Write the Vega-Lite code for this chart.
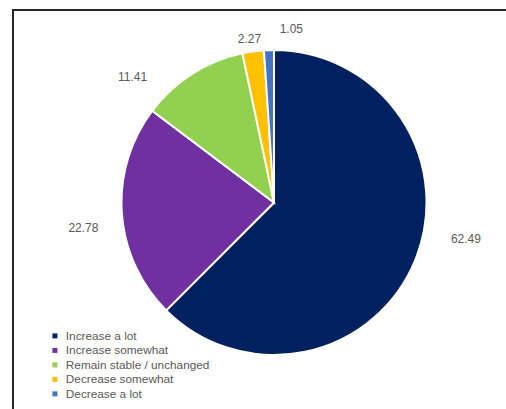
{
  "$schema": "https://vega.github.io/schema/vega-lite/v6.json",
  "autosize": {"type": "none"},
  "padding": {"left": 13, "top": 10, "right": 0, "bottom": 0},
  "width": 522,
  "height": 800,
  "background": "white",
  "config": {
    "view": {"stroke": "#262626", "strokeWidth": 2},
    "text": {"font": "Liberation Sans", "fontSize": 12, "fill": "#595959"}
  },
  "data": {
    "values": [
      {"category": "Increase a lot", "pct": 62.49, "rank": 1},
      {"category": "Increase somewhat", "pct": 22.78, "rank": 2},
      {"category": "Remain stable / unchanged", "pct": 11.41, "rank": 3},
      {"category": "Decrease somewhat", "pct": 2.27, "rank": 4},
      {"category": "Decrease a lot", "pct": 1.05, "rank": 5}
    ]
  },
  "encoding": {
    "theta": {"field": "pct", "type": "quantitative", "stack": true, "scale": {"domain": [0, 100]}},
    "order": {"field": "rank", "type": "quantitative"},
    "y": {"value": 192.5}
  },
  "layer": [
    {
      "mark": {"type": "arc", "outerRadius": 152.5, "stroke": "white", "strokeWidth": 2},
      "encoding": {
        "color": {
          "field": "category",
          "type": "nominal",
          "scale": {
            "domain": ["Increase a lot", "Increase somewhat", "Remain stable / unchanged", "Decrease somewhat", "Decrease a lot"],
            "range": ["#002060", "#7030A0", "#92D050", "#FFC000", "#4472C4"]
          },
          "legend": {
            "title": null,
            "orient": "none",
            "legendX": 36,
            "legendY": 320,
            "padding": 0,
            "symbolType": "square",
            "symbolSize": 25,
            "symbolStrokeWidth": 0,
            "labelFont": "Liberation Sans",
            "labelFontSize": 11.8,
            "labelColor": "#595959",
            "labelOffset": 5,
            "rowPadding": 1.5
          }
        }
      }
    },
    {
      "mark": {"type": "text", "radius": 172, "dx": 33, "dy": -29},
      "encoding": {"text": {"condition": {"test": "datum.category === 'Increase a lot'", "field": "pct", "type": "quantitative", "format": ".2f"}, "value": ""}}
    },
    {
      "mark": {"type": "text", "radius": 172, "dx": -19, "dy": 13},
      "encoding": {"text": {"condition": {"test": "datum.category === 'Increase somewhat'", "field": "pct", "type": "quantitative", "format": ".2f"}, "value": ""}}
    },
    {
      "mark": {"type": "text", "radius": 172, "dx": -49, "dy": 20},
      "encoding": {"text": {"condition": {"test": "datum.category === 'Remain stable / unchanged'", "field": "pct", "type": "quantitative", "format": ".2f"}, "value": ""}}
    },
    {
      "mark": {"type": "text", "radius": 172, "dx": -1, "dy": 7},
      "encoding": {"text": {"condition": {"test": "datum.category === 'Decrease somewhat'", "field": "pct", "type": "quantitative", "format": ".2f"}, "value": ""}}
    },
    {
      "mark": {"type": "text", "radius": 172, "dx": 23, "dy": -2},
      "encoding": {"text": {"condition": {"test": "datum.category === 'Decrease a lot'", "field": "pct", "type": "quantitative", "format": ".2f"}, "value": ""}}
    }
  ]
}
